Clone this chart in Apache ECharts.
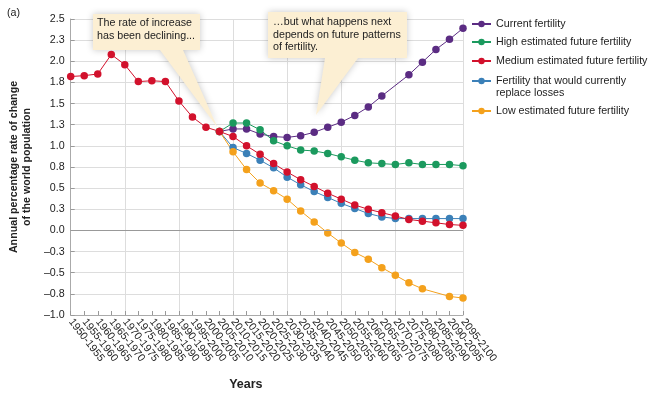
<!DOCTYPE html>
<html>
<head>
<meta charset="utf-8">
<script src="https://cdn.jsdelivr.net/npm/echarts@6/dist/echarts.min.js"></script>
<style>
html, body { margin: 0; padding: 0; background: #fff; }
#container { width: 650px; height: 396px; }
</style>
</head>
<body>
<div id="container"></div>
<script>
var dom = document.getElementById("container");
var myChart = echarts.init(dom);
var option;

var categories = ['1950-1955', '1955-1960', '1960-1965', '1965-1970', '1970-1975', '1975-1980',
    '1980-1985', '1985-1990', '1990-1995', '1995-2000', '2000-2005', '2005-2010',
    '2010-2015', '2015-2020', '2020-2025', '2025-2030', '2030-2035', '2035-2040',
    '2040-2045', '2045-2050', '2050-2055', '2055-2060', '2060-2065', '2065-2070',
    '2070-2075', '2075-2080', '2080-2085', '2085-2090', '2090-2095', '2095-2100'];

var yTickLabels = ['–1.0', '–0.8', '–0.5', '–0.3', '0.0', '0.3', '0.5', '0.8',
    '1.0', '1.3', '1.5', '1.8', '2.0', '2.3', '2.5'];
var yMin = -1, yMax = 2.5, yStep = 0.25;

var past = [null, null, null, null, null, null, null, null, null, null, null];

// medium also carries the historical estimates
var medium = [1.82, 1.83, 1.85, 2.08, 1.96, 1.76, 1.77, 1.76, 1.53, 1.34, 1.22, 1.17,
    1.11, 1.00, 0.90, 0.79, 0.69, 0.60, 0.52, 0.44, 0.37, 0.30, 0.25, 0.21, 0.17, 0.13, 0.11, 0.09, 0.07, 0.06];
var current = past.concat([1.17,
    1.20, 1.20, 1.14, 1.11, 1.10, 1.12, 1.16, 1.22, 1.28, 1.36, 1.46, 1.59, null, 1.84, 1.99, 2.14, 2.26, 2.39]);
var high = past.concat([1.17,
    1.27, 1.27, 1.19, 1.06, 1.00, 0.95, 0.94, 0.91, 0.87, 0.83, 0.80, 0.79, 0.78, 0.80, 0.78, 0.78, 0.78, 0.765]);
var replace = past.concat([1.17,
    0.98, 0.91, 0.83, 0.74, 0.63, 0.54, 0.46, 0.39, 0.32, 0.26, 0.20, 0.16, 0.14, 0.14, 0.14, 0.14, 0.14, 0.14]);
var low = past.concat([1.17,
    0.93, 0.72, 0.56, 0.47, 0.37, 0.23, 0.10, -0.03, -0.15, -0.26, -0.34, -0.44, -0.53, -0.62, -0.69, null, -0.78, -0.80]);

var names = ['Current fertility', 'High estimated future fertility', 'Medium estimated future fertility',
    'Fertility that would currently\nreplace losses', 'Low estimated future fertility'];
var colors = ['#5b2c83', '#1b9a5e', '#d2112c', '#3b80b8', '#f4a11c'];

var font = "'Liberation Sans', Arial, Helvetica, sans-serif";

function makeSeries(i, data) {
    return {
        name: names[i],
        type: 'line',
        data: data,
        connectNulls: true,
        symbol: 'circle',
        symbolSize: 7.5,
        itemStyle: { color: colors[i] },
        lineStyle: { color: colors[i], width: 1 },
        emphasis: { disabled: true }
    };
}

var legendCenters = [24, 42, 61, 81, 111];
var legends = names.map(function (n, i) {
    var twoLine = n.indexOf('\n') >= 0;
    return {
        data: [n],
        orient: 'vertical',
        left: 471,
        // two-line item gets a blank first line so the icon sits on its first real line
        top: twoLine ? legendCenters[i] - 18.75 : legendCenters[i] - 6.25,
        formatter: twoLine ? '\n{name}' : '{name}',
        padding: 0,
        itemWidth: 19,
        itemHeight: 8,
        selectedMode: false,
        textStyle: { fontFamily: font, fontSize: 10.7, color: '#222', lineHeight: 12.5 }
    };
});

var redSeries = makeSeries(2, medium);
redSeries.markLine = {
    silent: true,
    symbol: 'none',
    label: { show: false },
    lineStyle: { color: '#999', type: 'solid', width: 1.2 },
    data: [{ yAxis: 0 }]
};

option = {
    animation: false,
    grid: { left: 57, right: 187, top: 19, bottom: 80 },
    legend: legends,
    xAxis: {
        type: 'category',
        data: categories,
        boundaryGap: false,
        axisLine: { onZero: false, lineStyle: { color: '#aaa' } },
        axisTick: { inside: true, length: 4, interval: 0, lineStyle: { color: '#999' } },
        axisLabel: {
            interval: 0, rotate: -52, margin: 5,
            fontFamily: font, fontSize: 10.7, color: '#222'
        },
        splitLine: {
            show: true,
            interval: function (idx) { return (idx % 4 === 0 && idx < 28) || idx === 29; },
            lineStyle: { color: '#ddd' }
        },
        name: 'Years',
        nameLocation: 'middle',
        nameGap: 63,
        nameTextStyle: {
            fontFamily: font, fontSize: 12.5, fontWeight: 'bold', color: '#222',
            padding: [0, 42, 0, 0]
        }
    },
    yAxis: {
        type: 'value',
        min: yMin,
        max: yMax,
        interval: yStep,
        axisLine: { show: true, lineStyle: { color: '#aaa' } },
        axisTick: { show: true, inside: true, length: 4, lineStyle: { color: '#999' } },
        axisLabel: {
            margin: 6, fontFamily: font, fontSize: 10.7, color: '#222',
            formatter: function (v) { return yTickLabels[Math.round((v - yMin) / yStep)]; }
        },
        splitLine: { lineStyle: { color: '#ddd' } },
        name: 'Annual percentage rate of change\nof the world population',
        nameLocation: 'middle',
        nameGap: 28,
        nameTextStyle: {
            fontFamily: font, fontSize: 10.7, fontWeight: 'bold', color: '#222', lineHeight: 12.5
        }
    },
    series: [
        makeSeries(0, current),
        makeSeries(1, high),
        makeSeries(3, replace),
        makeSeries(4, low),
        redSeries
    ]
};

if (option && typeof option === 'object') {
    myChart.setOption(option);
}

// callouts point at the 2005-2010 estimate
var tip = myChart.convertToPixel({ xAxisIndex: 0, yAxisIndex: 0 }, [11, medium[11]]);
var tx = tip[0] - 2, ty = tip[1] - 4;
var bubble = { fill: '#fcefd3', shadowBlur: 7, shadowColor: 'rgba(0,0,0,0.22)' };
var textStyle = { fontFamily: font, fontSize: 10.7, fill: '#222', lineHeight: 12.5 };

myChart.setOption({
    graphic: [
        {
            type: 'polygon', z: 1,
            shape: { points: [[93, 14], [200, 14], [200, 50], [183, 50], [tx, ty], [160, 50], [93, 50]] },
            style: bubble
        },
        {
            type: 'text', z: 1, left: 97, top: 17,
            style: Object.assign({ text: 'The rate of increase\nhas been declining...' }, textStyle)
        },
        {
            type: 'polygon', z: 1,
            shape: { points: [[268, 12], [407, 12], [407, 58], [358, 58], [316, 115], [325, 58], [268, 58]] },
            style: bubble
        },
        {
            type: 'text', z: 1, left: 273, top: 16,
            style: Object.assign({ text: '…but what happens next\ndepends on future patterns\nof fertility.' }, textStyle)
        },
        {
            type: 'text', left: 7, top: 7,
            style: Object.assign({ text: '(a)' }, textStyle)
        }
    ]
});
</script>
</body>
</html>
